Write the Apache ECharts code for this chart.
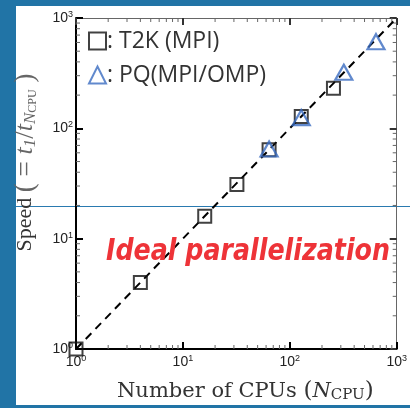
<!DOCTYPE html>
<html><head><meta charset="utf-8">
<script src="https://cdn.jsdelivr.net/npm/echarts@6/dist/echarts.min.js"></script>
<style>html,body{margin:0;padding:0;background:#2174a6;}#c{width:410px;height:408px;}</style>
</head><body><div id="c"></div>
<script>
// ---- data ----
var t2kCPUs = [1, 4, 16, 32, 64, 128, 256];
var t2kSpeed = [1, 4, 16, 31, 64, 128, 231];
var pqCPUs = [64, 128, 320, 640];
var pqSpeed = [65, 125, 322, 610];
var idealCPUs = [1, 1000];
var idealSpeed = [1, 1000];
var majorTickLabels = ['10^0', '10^1', '10^2', '10^3'];
var minorTickValues = [2,3,4,5,6,7,8,9,20,30,40,50,60,70,80,90,200,300,400,500,600,700,800,900];
var seriesNames = [': T2K (MPI)', ': PQ(MPI/OMP)'];

function zip(a, b) { return a.map(function (v, i) { return [v, b[i]]; }); }

var chart = echarts.init(document.getElementById('c'), null, {renderer: 'canvas'});

function tickFmt(v) {
  var e = Math.round(Math.log10(v));
  var lbl = majorTickLabels[e] || ('10^' + e);
  var parts = lbl.split('^');
  return '{b|' + parts[0] + '}{s|' + parts[1] + '}';
}
var tickRich = {
  b: {fontSize: 14, fontFamily: 'Liberation Sans', color: '#222', lineHeight: 16},
  s: {fontSize: 9, fontFamily: 'Liberation Sans', color: '#222', verticalAlign: 'top', lineHeight: 9}
};

// measure red text
var cv = document.createElement('canvas').getContext('2d');
cv.font = 'italic bold 30px "DejaVu Sans"';
var redW = cv.measureText('Ideal parallelization').width;
var redScale = 284 / redW;

var axisCommon = {
  type: 'log', logBase: 10, min: 1, max: 1000,
  splitLine: {show: false},
  minorTick: {show: false}
};

var option = {
  backgroundColor: '#2174a6',
  animation: false,
  grid: {left: 76, right: 10, top: 18, bottom: 59, containLabel: false},
  graphic: [
    {type: 'rect', shape: {x: 16, y: 6, width: 394, height: 399}, style: {fill: '#ffffff'}, z: -20, silent: true},
    {type: 'line', shape: {x1: 16, y1: 206.5, x2: 410, y2: 206.5}, style: {stroke: '#2a7ab0', lineWidth: 1}, z: -10, silent: true},
    {type: 'text', x: 106, y: 252, scaleX: redScale, scaleY: 1, z: 50,
      style: {text: 'Ideal parallelization', fill: '#ee3338', font: 'italic bold 30px "DejaVu Sans"', textVerticalAlign: 'middle', textAlign: 'left'}}
  ],
  legend: {
    data: seriesNames,
    orient: 'vertical', left: 83, top: 24, itemGap: 10,
    itemWidth: 17, itemHeight: 17,
    textStyle: {fontSize: 23, lineHeight: 24, fontFamily: 'Open Sans', color: '#333', padding: [0,0,0,-4]}
  },
  xAxis: [
    Object.assign({}, axisCommon, {
      position: 'bottom',
      axisLine: {lineStyle: {color: '#000', width: 2}},
      axisTick: {inside: true, length: 7, lineStyle: {color: '#000', width: 2}},
      axisLabel: {formatter: tickFmt, rich: tickRich, margin: 5},
      name: '{a|Number of CPUs }{p|(}{n|N}{u|CPU}{p|)}',
      nameLocation: 'middle', nameGap: 31,
      nameTextStyle: {padding: [0, 0, 0, 18], rich: {
        a: {fontSize: 21, fontFamily: 'DejaVu Serif', color: '#333'},
        p: {fontSize: 23, fontFamily: 'DejaVu Serif', color: '#333'},
        n: {fontSize: 21, fontFamily: 'DejaVu Serif', fontStyle: 'italic', color: '#333'},
        u: {fontSize: 15, fontFamily: 'DejaVu Serif', color: '#333', verticalAlign: 'bottom', lineHeight: 15}
      }}
    }),
    Object.assign({}, axisCommon, {
      position: 'top',
      axisLine: {lineStyle: {color: '#666', width: 1}},
      axisTick: {inside: true, length: 7, lineStyle: {color: '#333', width: 2}},
      axisLabel: {show: false}
    })
  ],
  yAxis: [
    Object.assign({}, axisCommon, {
      position: 'left',
      axisLine: {lineStyle: {color: '#000', width: 2}},
      axisTick: {inside: true, length: 7, lineStyle: {color: '#000', width: 2}},
      axisLabel: {formatter: tickFmt, rich: tickRich, margin: 3},
      name: '{a|Speed }{g|( = }{t|t}{s|1}{g|/}{t|t}{s|N}{c|CPU}{g| )}',
      nameLocation: 'middle', nameGap: 37,
      nameTextStyle: {padding: [0, 0, 0, 42], rich: {
        a: {fontSize: 22, fontFamily: 'Liberation Serif', color: '#333'},
        g: {fontSize: 27, fontFamily: 'Liberation Serif', color: '#666'},
        t: {fontSize: 26, fontFamily: 'Liberation Serif', fontStyle: 'italic', color: '#666'},
        s: {fontSize: 17, fontFamily: 'Liberation Serif', fontStyle: 'italic', color: '#666', verticalAlign: 'bottom', lineHeight: 15},
        c: {fontSize: 12, fontFamily: 'Liberation Serif', color: '#666', verticalAlign: 'bottom', lineHeight: 12}
      }}
    }),
    Object.assign({}, axisCommon, {
      position: 'right',
      axisLine: {lineStyle: {color: '#666', width: 1}},
      axisTick: {inside: true, length: 7, lineStyle: {color: '#333', width: 2}},
      axisLabel: {show: false}
    })
  ],
  series: [
    {
      type: 'custom', name: 'minor', silent: true, z: 1,
      data: minorTickValues.map(function (v) { return [v, v]; }),
      renderItem: function (params, api) {
        var v = api.value(0);
        var px = api.coord([v, 1])[0];
        var py = api.coord([1, v])[1];
        var cs = params.coordSys;
        var L = 4, st = {stroke: '#666', lineWidth: 1};
        return {type: 'group', children: [
          {type: 'line', shape: {x1: px, y1: cs.y + cs.height, x2: px, y2: cs.y + cs.height - L}, style: st},
          {type: 'line', shape: {x1: px, y1: cs.y, x2: px, y2: cs.y + L}, style: st},
          {type: 'line', shape: {x1: cs.x, y1: py, x2: cs.x + L, y2: py}, style: st},
          {type: 'line', shape: {x1: cs.x + cs.width, y1: py, x2: cs.x + cs.width - L, y2: py}, style: st}
        ]};
      }
    },
    {
      type: 'line', name: 'ideal', data: zip(idealCPUs, idealSpeed), symbol: 'none', z: 3,
      lineStyle: {color: '#000', width: 2, type: [8, 6]}
    },
    {
      type: 'scatter', name: seriesNames[0], data: zip(t2kCPUs, t2kSpeed), z: 5,
      symbol: 'rect', symbolSize: 13,
      itemStyle: {color: 'rgba(255,255,255,0)', borderColor: '#111', borderWidth: 2}
    },
    {
      type: 'scatter', name: seriesNames[1], data: zip(pqCPUs, pqSpeed), z: 6,
      symbol: 'triangle', symbolSize: [17, 15],
      itemStyle: {color: 'rgba(255,255,255,0)', borderColor: '#3a6cc0', borderWidth: 2.2}
    }
  ]
};
chart.setOption(option);
</script>
</body></html>
